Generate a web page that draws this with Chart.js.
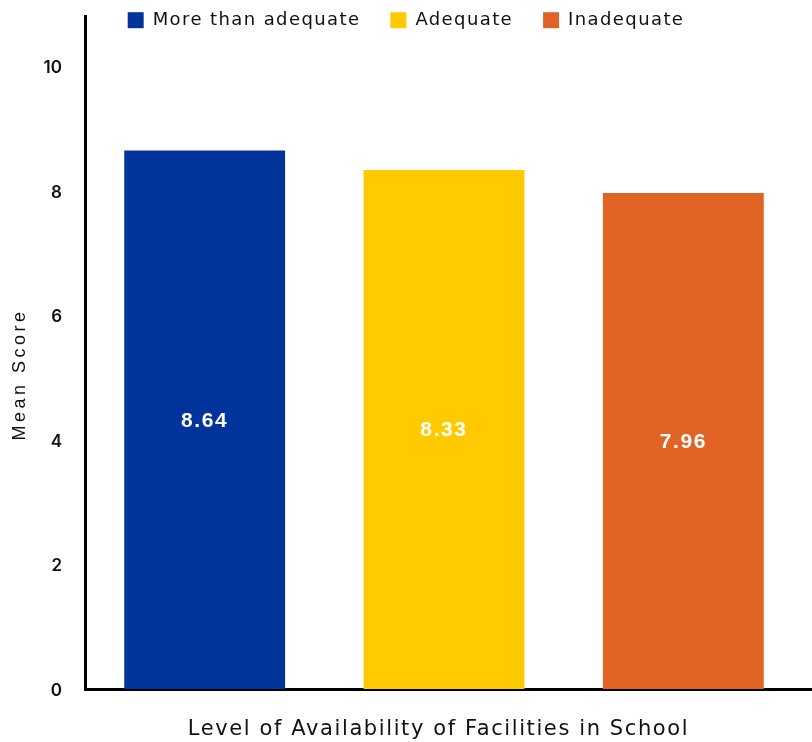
<!DOCTYPE html>
<html>
<head>
<meta charset="utf-8">
<script src="https://cdn.jsdelivr.net/npm/chart.js@4.4.1/dist/chart.umd.min.js"></script>
<style>
  html, body { margin: 0; padding: 0; background: #ffffff; }
  #wrap { width: 812px; height: 742px; position: relative; }
</style>
</head>
<body>
<div id="wrap"><canvas id="chart"></canvas></div>
<script>
// Availability levels (one bar per level)
const categories = ['More than adequate', 'Adequate', 'Inadequate'];
const meanScores = [8.64, 8.33, 7.96];
const barColors = ['#00349A', '#FFCB00', '#E26424'];
const yTickValues = [0, 2, 4, 6, 8, 10];

const yMax = 10.8;
const wideFont = '"DejaVu Sans", "Noto Sans", sans-serif';
const plainFont = '"Liberation Sans", Arial, sans-serif';

// Each level is its own dataset so the legend lists all three
const datasets = categories.map((name, i) => ({
  label: name,
  data: categories.map((_, j) => (j === i ? meanScores[i] : null)),
  backgroundColor: barColors[i],
  borderWidth: 0,
  grouped: false,
  categoryPercentage: 0.672,
  barPercentage: 1.0
}));

// Run a drawing/measuring method with extra letter spacing (and an optional shift)
function withSpacing(obj, method, spacing, dx = 0, dy = 0) {
  const orig = obj[method];
  obj[method] = function (...args) {
    const ctx = this.ctx;
    ctx.save();
    ctx.letterSpacing = spacing;
    ctx.translate(dx, dy);
    try { return orig.apply(this, args); }
    finally { ctx.restore(); }
  };
}

// Legend overlays the top of the plot instead of pushing it down;
// text spacing tweaks for titles and legend
const layoutTweaks = {
  id: 'layoutTweaks',
  beforeLayout(chart) {
    if (chart.$tweaked) return;
    const legend = chart.legend;
    if (legend) {
      withSpacing(legend, 'fit', '1.4px');
      withSpacing(legend, 'draw', '1.4px');
      const fit = legend.fit;
      legend.fit = function () {
        fit.call(this);
        this.height = 0;
      };
    }
    withSpacing(chart.scales.x, 'drawTitle', '1.6px', -10, 0);
    withSpacing(chart.scales.y, 'drawTitle', '3.5px', 0, 22);
    withSpacing(chart.scales.y, 'drawLabels', '0px', 0, 2);
    chart.$tweaked = true;
  },
  afterLayout(chart) {
    // x axis line runs to the right edge of the canvas
    chart.scales.x.right = chart.width;
    const legend = chart.legend;
    if (!legend) return;
    // legend centred across the whole canvas, over the top of the plot
    legend.left = 0;
    legend.right = chart.width;
    legend.width = chart.width;
    legend.top = -18.8;
    legend.bottom = 50;
    legend.height = legend.bottom - legend.top;
  }
};

// Value printed in the middle of each bar
const barValues = {
  id: 'barValues',
  afterDatasetsDraw(chart) {
    const ctx = chart.ctx;
    ctx.save();
    ctx.fillStyle = '#ffffff';
    ctx.font = 'bold 21px ' + plainFont;
    ctx.letterSpacing = '1.6px';
    ctx.textAlign = 'center';
    ctx.textBaseline = 'middle';
    chart.data.datasets.forEach((ds, di) => {
      const meta = chart.getDatasetMeta(di);
      meta.data.forEach((bar, j) => {
        const v = ds.data[j];
        if (v === null || v === undefined) return;
        const mid = (bar.y + bar.base) / 2;
        ctx.fillText(v.toFixed(2), bar.x, mid + 1);
      });
    });
    ctx.restore();
  }
};

new Chart(document.getElementById('chart'), {
  type: 'bar',
  data: { labels: categories, datasets },
  options: {
    responsive: true,
    maintainAspectRatio: false,
    animation: false,
    layout: { padding: { top: 16, left: 0, right: 9, bottom: 0 } },
    plugins: {
      legend: {
        position: 'top',
        align: 'center',
        labels: {
          boxWidth: 16,
          boxHeight: 16,
          padding: 30,
          color: '#111111',
          font: { family: wideFont, size: 18, weight: 'normal' }
        }
      },
      tooltip: { enabled: false }
    },
    scales: {
      x: {
        grid: { display: false },
        border: { display: true, color: '#000000', width: 3 },
        ticks: { display: false },
        title: {
          display: true,
          text: 'Level of Availability of Facilities in School',
          color: '#111111',
          font: { family: wideFont, size: 21, weight: 'normal' },
          padding: { top: 0, bottom: 0 }
        },
        afterFit(scale) {
          scale.height = 53;
          scale.paddingLeft = 0;
          scale.paddingRight = 0;
        }
      },
      y: {
        min: 0,
        max: yMax,
        grid: { display: false, drawTicks: false },
        border: { display: true, color: '#000000', width: 3 },
        afterBuildTicks(scale) {
          scale.ticks = yTickValues.map(v => ({ value: v }));
        },
        ticks: {
          color: '#111111',
          font: { family: 'Inter', size: 17, weight: '600' },
          padding: 23
        },
        title: {
          display: true,
          text: 'Mean Score',
          color: '#111111',
          font: { family: plainFont, size: 18, weight: 'normal' },
          padding: { top: 9, bottom: 0 }
        },
        afterFit(scale) {
          scale.width = 85;
          scale.paddingTop = 0;
          scale.paddingBottom = 0;
        }
      }
    }
  },
  plugins: [layoutTweaks, barValues]
});
</script>
</body>
</html>
